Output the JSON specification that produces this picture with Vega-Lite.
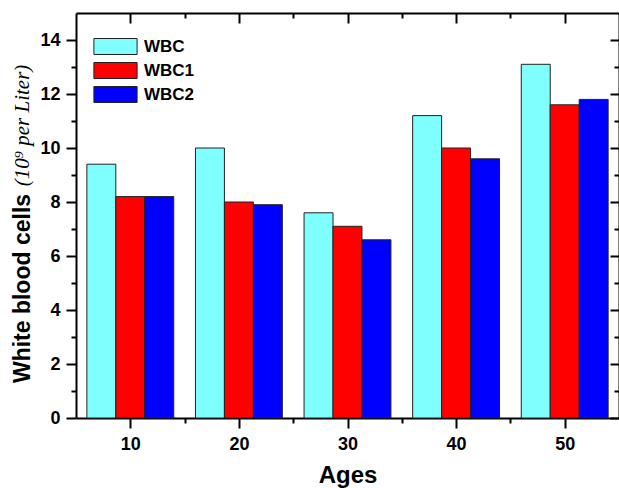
{
  "$schema": "https://vega.github.io/schema/vega-lite/v6.json",
  "autosize": "none",
  "width": 543,
  "height": 405,
  "padding": {"left": 76, "top": 13, "right": 0, "bottom": 70},
  "background": "white",
  "config": {
    "view": {"stroke": null},
    "axis": {"domainColor": "black", "domainWidth": 2, "tickColor": "black", "tickWidth": 2, "labelFont": "Liberation Sans", "labelFontWeight": "bold", "labelFontSize": 18, "labelColor": "black", "titleFont": "Liberation Sans", "titleFontWeight": "bold", "titleColor": "black", "grid": false}
  },
  "data": {"values": [
    {"age": 10, "series": "WBC", "value": 9.4},
    {"age": 10, "series": "WBC1", "value": 8.2},
    {"age": 10, "series": "WBC2", "value": 8.2},
    {"age": 20, "series": "WBC", "value": 10.0},
    {"age": 20, "series": "WBC1", "value": 8.0},
    {"age": 20, "series": "WBC2", "value": 7.9},
    {"age": 30, "series": "WBC", "value": 7.6},
    {"age": 30, "series": "WBC1", "value": 7.1},
    {"age": 30, "series": "WBC2", "value": 6.6},
    {"age": 40, "series": "WBC", "value": 11.2},
    {"age": 40, "series": "WBC1", "value": 10.0},
    {"age": 40, "series": "WBC2", "value": 9.6},
    {"age": 50, "series": "WBC", "value": 13.1},
    {"age": 50, "series": "WBC1", "value": 11.6},
    {"age": 50, "series": "WBC2", "value": 11.8}
  ]},
  "layer": [
    {
      "mark": {"type": "bar", "stroke": "#222222", "strokeWidth": 1},
      "encoding": {
        "x": {"field": "age", "type": "ordinal", "scale": {"paddingInner": 0.2, "paddingOuter": 0.1}, "axis": null},
        "xOffset": {"field": "series", "type": "nominal", "scale": {"domain": ["WBC", "WBC1", "WBC2"]}},
        "y": {"field": "value", "type": "quantitative", "scale": {"domain": [0, 15], "nice": false},
          "axis": {"orient": "left", "values": [0,1,2,3,4,5,6,7,8,9,10,11,12,13,14],
            "labelExpr": "datum.value % 2 == 0 ? datum.label : ''",
            "tickSize": {"condition": {"test": "datum.value % 2 == 0", "value": 10}, "value": 5},
            "labelPadding": 6,
            "title": "White blood cells", "titleFontSize": 23, "titleAngle": -90,
            "titleX": -54, "titleY": 275, "titleAlign": "center", "titleBaseline": "middle"}},
        "color": {"field": "series", "type": "nominal",
          "scale": {"domain": ["WBC", "WBC1", "WBC2"], "range": ["#80FFFF", "#FF0000", "#0000FF"]},
          "legend": {"title": null, "orient": "none", "legendX": 31, "legendY": 25, "padding": 0,
            "symbolType": "M-2.7,-1H2.7V1H-2.7Z", "symbolSize": 256, "symbolStrokeColor": "#222222", "symbolStrokeWidth": 1,
            "symbolOpacity": 1, "rowPadding": 3, "labelOffset": 20,
            "labelFont": "Liberation Sans", "labelFontWeight": "bold", "labelFontSize": 17, "labelColor": "black"}}
      }
    },
    {
      "mark": {"type": "point", "opacity": 0},
      "encoding": {
        "x": {"field": "age", "type": "quantitative", "scale": {"domain": [5, 55], "nice": false},
          "axis": {"orient": "bottom", "values": [10,15,20,25,30,35,40,45,50],
            "labelExpr": "datum.value % 10 == 0 ? datum.label : ''",
            "tickSize": {"condition": {"test": "datum.value % 10 == 0", "value": 10}, "value": 5},
            "labelPadding": 7, "title": "Ages", "titleFontSize": 24, "titlePadding": 10}},
        "y": {"field": "value", "type": "quantitative", "scale": {"domain": [0, 15], "nice": false},
          "axis": {"orient": "right", "values": [0,1,2,3,4,5,6,7,8,9,10,11,12,13,14], "labels": false,
            "tickSize": {"condition": {"test": "datum.value % 2 == 0", "value": -9}, "value": -5},
            "title": "(10⁹ per Liter)", "titleFont": "Liberation Serif", "titleFontStyle": "italic", "titleFontWeight": "normal", "titleFontSize": 21,
            "titleAngle": -90, "titleX": -597, "titleY": 112, "titleAlign": "center", "titleBaseline": "middle"}}
      }
    },
    {
      "mark": {"type": "point", "opacity": 0},
      "encoding": {
        "x": {"field": "age", "type": "quantitative", "scale": {"domain": [5, 55], "nice": false},
          "axis": {"orient": "top", "values": [10,15,20,25,30,35,40,45,50], "labels": false, "title": null,
            "tickSize": {"condition": {"test": "datum.value % 10 == 0", "value": -10}, "value": -5}}},
        "y": {"field": "value", "type": "quantitative", "scale": {"domain": [0, 15], "nice": false}, "axis": null}
      }
    }
  ],
  "resolve": {"scale": {"x": "independent"}, "axis": {"x": "independent", "y": "independent"}}
}
